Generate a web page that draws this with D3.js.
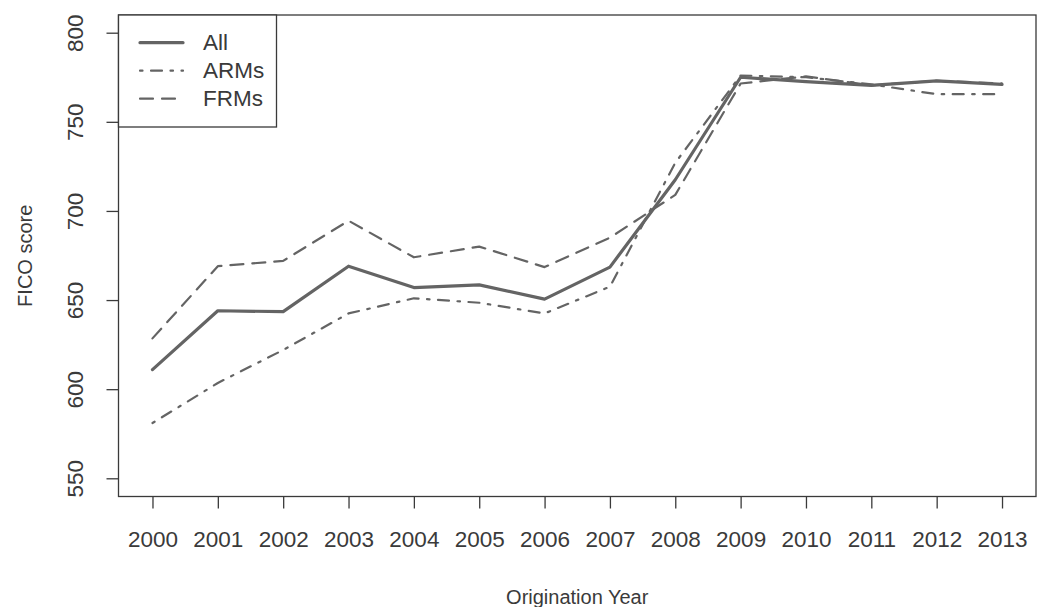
<!DOCTYPE html>
<html>
<head>
<meta charset="utf-8">
<script src="https://cdn.jsdelivr.net/npm/d3@7"></script>
<style>
  html, body { margin: 0; padding: 0; background: #fff; }
  svg { display: block; }
  text { font-family: "Liberation Sans", Arial, sans-serif; fill: #3a3a3a; }
</style>
</head>
<body>
<svg id="chart" width="1037" height="607"></svg>
<script>
// Average FICO score by origination year
const years = [2000, 2001, 2002, 2003, 2004, 2005, 2006, 2007, 2008, 2009, 2010, 2011, 2012, 2013];
const ficoAll  = [611, 644, 643.5, 669, 657, 658.5, 650.5, 668.5, 717.5, 775, 772.5, 770.5, 773, 771];
const ficoARMs = [581, 603.5, 622, 642.5, 651, 648.5, 642.5, 657.5, 727, 776, 775, 771, 765.5, 765.5];
const ficoFRMs = [628.5, 669, 672, 694.5, 674, 680, 668.5, 685, 709, 771.5, 775.5, 770.5, 773, 771.5];
const yTicks = [550, 600, 650, 700, 750, 800];
const seriesNames = ["All", "ARMs", "FRMs"];

const svg = d3.select("#chart");

// plot frame
const box = { left: 118.5, right: 1036, top: 15, bottom: 496.5 };
const ink = "#646464";
const frameInk = "#3a3a3a";

const x = d3.scaleLinear()
  .domain([2000 - 13 * 0.04, 2013 + 13 * 0.04])
  .range([box.left, box.right]);

const y = d3.scaleLinear()
  .domain([550, 800])
  .range([478.3, 32.7]);

const styles = {
  All:  { width: 3.2, dash: null },
  ARMs: { width: 2.2, dash: "2.5,8.5,11,8.5" },
  FRMs: { width: 2.2, dash: "13,9" }
};

// x axis
const xAxis = d3.axisBottom(x)
  .tickValues(years)
  .tickFormat(d3.format("d"))
  .tickSize(12)
  .tickPadding(23);
const gx = svg.append("g")
  .attr("transform", `translate(0,${box.bottom})`)
  .call(xAxis);
gx.select(".domain").remove();
gx.selectAll(".tick line").attr("stroke", frameInk).attr("stroke-width", 1.3);
gx.selectAll(".tick text")
  .attr("font-size", 22.5)
  .attr("fill", "#3a3a3a")
  .style("font-family", "'Liberation Sans', Arial, sans-serif");

// y axis with rotated labels
const yAxis = d3.axisLeft(y)
  .tickValues(yTicks)
  .tickSize(12)
  .tickFormat(d3.format("d"));
const gy = svg.append("g")
  .attr("transform", `translate(${box.left},0)`)
  .call(yAxis);
gy.select(".domain").remove();
gy.selectAll(".tick line").attr("stroke", frameInk).attr("stroke-width", 1.3);
gy.selectAll(".tick text")
  .attr("font-size", 22.5)
  .attr("fill", "#3a3a3a")
  .style("font-family", "'Liberation Sans', Arial, sans-serif")
  .attr("x", null)
  .attr("dy", null)
  .attr("text-anchor", "middle")
  .attr("dominant-baseline", "central")
  .attr("transform", "translate(-43,0) rotate(-90)");

// frame
svg.append("rect")
  .attr("x", box.left).attr("y", box.top)
  .attr("width", box.right - box.left).attr("height", box.bottom - box.top)
  .attr("fill", "none").attr("stroke", frameInk).attr("stroke-width", 1.3);

// series lines
const line = d3.line()
  .x((d, i) => x(years[i]))
  .y(d => y(d));

const seriesData = { All: ficoAll, ARMs: ficoARMs, FRMs: ficoFRMs };
["FRMs", "ARMs", "All"].forEach(name => {
  const s = styles[name];
  svg.append("path")
    .datum(seriesData[name])
    .attr("d", line)
    .attr("fill", "none")
    .attr("stroke", ink)
    .attr("stroke-width", s.width)
    .attr("stroke-linejoin", "round")
    .attr("stroke-linecap", "round")
    .attr("stroke-dasharray", s.dash);
});

// axis titles
svg.append("text")
  .attr("x", (box.left + box.right) / 2)
  .attr("y", 597)
  .attr("text-anchor", "middle")
  .attr("dominant-baseline", "central")
  .attr("font-size", 20)
  .text("Origination Year");

svg.append("text")
  .attr("transform", `translate(25,${(box.top + box.bottom) / 2}) rotate(-90)`)
  .attr("text-anchor", "middle")
  .attr("dominant-baseline", "central")
  .attr("font-size", 20)
  .text("FICO score");

// legend
const legend = svg.append("g");
legend.append("rect")
  .attr("x", box.left).attr("y", box.top)
  .attr("width", 158).attr("height", 112)
  .attr("fill", "#fff").attr("stroke", frameInk).attr("stroke-width", 1.3);

seriesNames.forEach((name, i) => {
  const ly = 42.7 + i * 28;
  const s = styles[name];
  legend.append("line")
    .attr("x1", 140).attr("x2", 183)
    .attr("y1", ly).attr("y2", ly)
    .attr("stroke", ink)
    .attr("stroke-width", s.width)
    .attr("stroke-linecap", "round")
    .attr("stroke-dasharray", s.dash);
  legend.append("text")
    .attr("x", 203)
    .attr("y", ly)
    .attr("dominant-baseline", "central")
    .attr("font-size", 22.5)
    .text(name);
});
</script>
</body>
</html>
